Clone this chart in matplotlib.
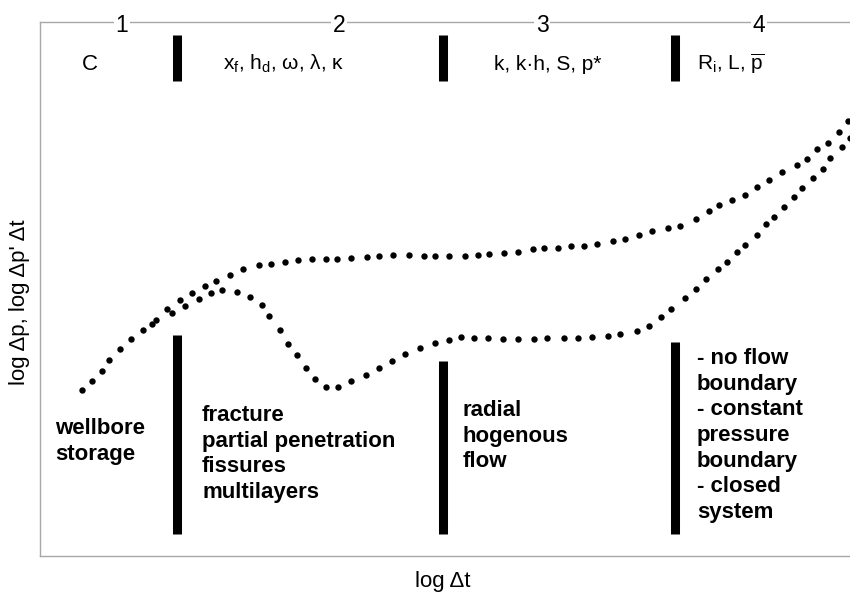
import matplotlib
matplotlib.use("Agg")
import matplotlib.pyplot as plt

plt.rcParams['font.family'] = ['Liberation Sans', 'DejaVu Sans']
plt.rcParams['mathtext.fontset'] = 'custom'
plt.rcParams['mathtext.rm'] = 'Liberation Sans'
plt.rcParams['mathtext.it'] = 'Liberation Sans:italic'
plt.rcParams['mathtext.bf'] = 'Liberation Sans:bold'

# ---- data (arbitrary log units) ----
dp_x = [42, 52, 62, 69, 80, 91, 103, 112, 127, 140, 152, 165, 176, 190, 203, 219,
        231, 245, 258, 272, 286, 297, 311, 327, 339, 353, 369, 384, 395, 409, 425,
        438, 449, 464, 478, 493, 504, 518, 531, 544, 557, 573, 585, 599, 612, 628,
        640, 656, 669, 679, 692, 705, 717, 729, 742, 757, 767, 777, 788, 799, 808]
dp_y = [166, 175, 185, 196, 207, 217, 226, 232, 247, 256, 263, 270, 275, 281, 287, 291,
        292, 294, 296, 297, 297, 297, 298, 299, 300, 301, 301, 300, 300, 300, 300,
        301, 302, 303, 304, 307, 308, 308, 310, 310, 312, 315, 317, 321, 325, 328,
        330, 337, 345, 351, 356, 361, 369, 376, 384, 391, 397, 407, 413, 424, 435]

der_x = [116, 132, 145, 159, 171, 182, 197, 210, 222, 229, 240, 248, 257, 266, 275,
         286, 298, 311, 326, 339, 352, 365, 380, 395, 409, 421, 434, 448, 463, 478,
         494, 507, 524, 538, 552, 568, 580, 597, 609, 621, 631, 645, 656, 666, 678,
         687, 697, 705, 717, 726, 734, 744, 754, 762, 773, 783, 790, 802, 810]
der_y = [236, 243, 250, 257, 263, 266, 264, 259, 251, 240, 226, 212, 201, 188, 177,
         169, 169, 175, 181, 188, 195, 202, 208, 213, 216, 219, 218, 218, 217, 217,
         217, 218, 218, 218, 219, 220, 222, 225, 230, 239, 247, 258, 267, 277, 287,
         294, 304, 311, 321, 332, 339, 349, 359, 368, 378, 387, 398, 409, 418]

region_numbers = ['1', '2', '3', '4']
region_number_x = [82, 299, 502, 719]

divider_x = [137, 403, 635]
top_bar_ymin = [475, 475, 475]
top_bar_ymax = [521, 521, 521]
bottom_bar_ymin = [22, 22, 22]
bottom_bar_ymax = [221, 195, 214]

param_labels = ['C', r'x$_\mathrm{f}$, h$_\mathrm{d}$, ω, λ, κ', 'k, k·h, S, p*',
                r'R$_\mathrm{i}$, L, $\overline{\mathrm{p}}$']
param_x = [50, 183, 454, 657]

regime_labels = ['wellbore\nstorage',
                 'fracture\npartial penetration\nfissures\nmultilayers',
                 'radial\nhogenous\nflow',
                 '- no flow\nboundary\n- constant\npressure\nboundary\n- closed\nsystem']
regime_x = [15, 162, 423, 657]
regime_top = [138, 151, 156, 208]

# ---- figure ----
W, H = 850, 592
fig = plt.figure(figsize=(W / 100, H / 100), dpi=100)
ax = fig.add_axes([40 / W, 36 / H, 810 / W, 534 / H])
ax.set_xlim(0, 810)
ax.set_ylim(0, 534)
ax.set_xticks([])
ax.set_yticks([])
frame = '#a8a8a8'
for s in ['left', 'bottom', 'top']:
    ax.spines[s].set_color(frame)
    ax.spines[s].set_linewidth(1.0)
ax.spines['right'].set_visible(False)

ax.plot(dp_x, dp_y, 'o', color='black', markersize=4.6, markeredgewidth=0,
        clip_on=False)
ax.plot(der_x, der_y, 'o', color='black', markersize=4.6, markeredgewidth=0,
        clip_on=False)

ax.vlines(divider_x, top_bar_ymin, top_bar_ymax, colors='black', linewidth=6.5)
ax.vlines(divider_x, bottom_bar_ymin, bottom_bar_ymax, colors='black', linewidth=6.5)

for lab, x in zip(region_numbers, region_number_x):
    ax.text(x, 531, lab, ha='center', va='center', fontsize=16.5,
            bbox=dict(facecolor='white', edgecolor='none', pad=1.5), clip_on=False)

for i, (lab, x) in enumerate(zip(param_labels, param_x)):
    ax.text(x, 492, lab, ha='center' if i == 0 else 'left', va='center',
            fontsize=16 if i == 0 else 15)

for lab, x, yt in zip(regime_labels, regime_x, regime_top):
    ax.text(x, yt, lab, ha='left', va='top', fontsize=16, fontweight='bold',
            linespacing=1.29)

fig.text(20 / W, 1 - 302 / H, "log Δp, log Δp' Δt", rotation=90, ha='center',
         va='center', fontsize=16)
fig.text(443 / W, 1 - 582 / H, 'log Δt', ha='center', va='center', fontsize=16)

fig.savefig('out.png', dpi=100)
